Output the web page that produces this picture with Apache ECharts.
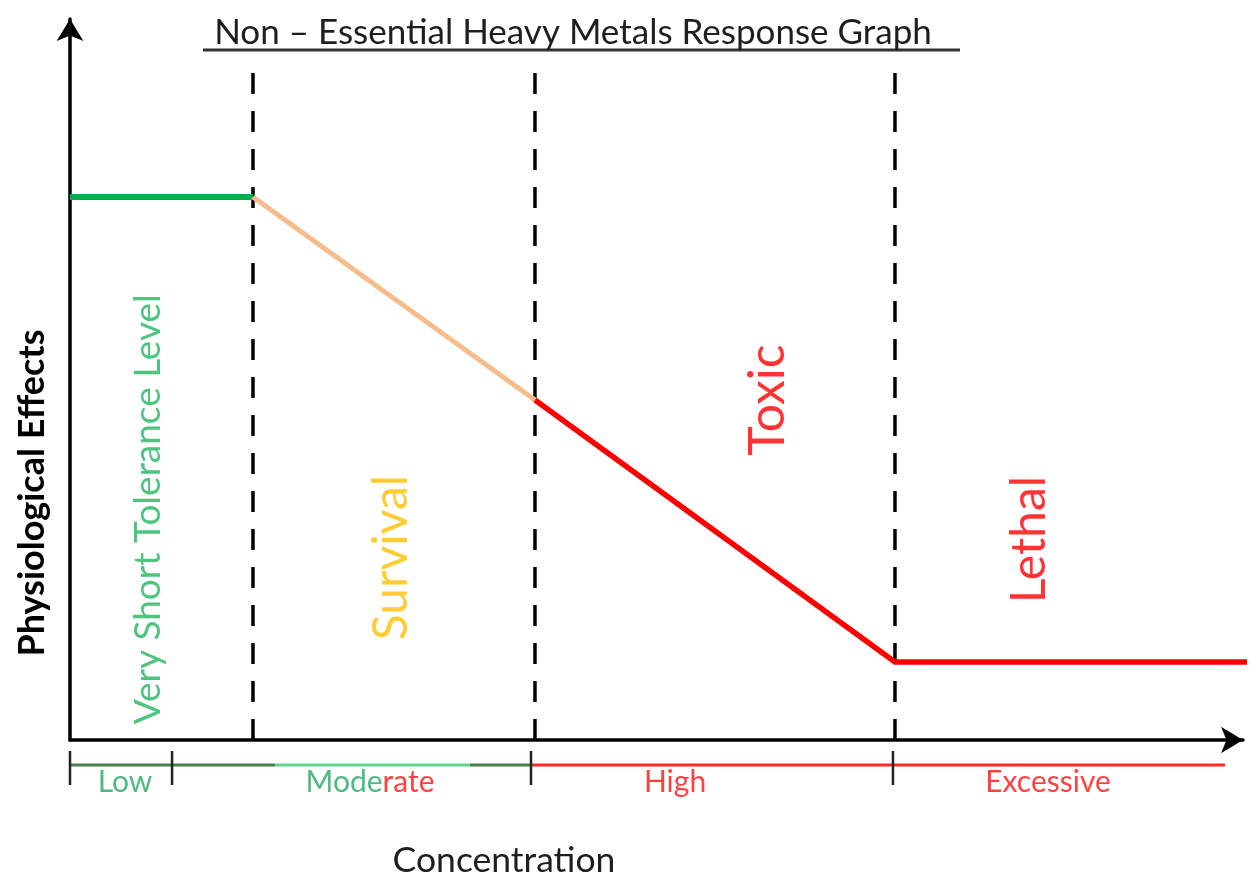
<!DOCTYPE html>
<html>
<head>
<meta charset="utf-8">
<script src="https://cdn.jsdelivr.net/npm/echarts@6/dist/echarts.min.js"></script>
<style>
html,body{margin:0;padding:0;background:#fff;}
#c{width:1255px;height:877px;}
</style>
</head>
<body>
<div id="c"></div>
<script>
// ---- data (concentration units 0..100, effect units 0..100) ----
const boundaries = [15.6, 39.64, 70.33];          // zone boundaries (dashed lines)
const dashTop = 93.2;                              // top of dashed lines
const toleranceLine = [[0, 75.31], [15.6, 75.31]];
const survivalLine = [[15.6, 75.31], [39.64, 47.16]];
const toxicLine = [[39.64, 47.16], [70.33, 10.82], [101, 10.82]];
const zoneLabels = ['Very Short Tolerance Level', 'Survival', 'Toxic', 'Lethal'];
const zoneLabelPos = [[6.65, 32.0], [27.45, 25.3], [59.5, 47.16], [81.84, 27.8]];
const concTicks = [0, 8.7, 39.3, 70.16];           // bracket tick positions
const concLevels = ['Low', 'Moderate', 'High', 'Excessive'];
const concLevelPos = [4.69, 25.58, 51.58, 83.38];
const bracketSegments = [
  { from: 0, to: 17.48, color: '#4a7d4f' },
  { from: 17.48, to: 34.1, color: '#5fd68e' },
  { from: 34.1, to: 39.3, color: '#4a7d4f' },
  { from: 39.3, to: 98.47, color: '#ff2a2a' }
];

const FONT = 'Lato';
const chart = echarts.init(document.getElementById('c'), null, { renderer: 'canvas' });

const series = [];
// dashed boundary lines
boundaries.forEach(b => series.push({
  type: 'line', xAxisIndex: 0, yAxisIndex: 0, data: [[b, 0], [b, dashTop]],
  symbol: 'none', silent: true, z: 1,
  lineStyle: { color: '#000', width: 3.5, type: [21, 17] }
}));
series.push({ type: 'line', data: toleranceLine, symbol: 'none', z: 3,
  lineStyle: { color: '#00b050', width: 6 } });
series.push({ type: 'line', data: survivalLine, symbol: 'none', z: 3,
  lineStyle: { color: '#f6bd8c', width: 5 } });
series.push({ type: 'line', data: toxicLine, symbol: 'none', z: 3, clip: false,
  lineStyle: { color: '#ff0000', width: 5.5, join: 'miter' } });

// zone labels
const zoneStyles = [
  { color: '#22b65e', fontSize: 37 },
  { color: '#ffc000', fontSize: 48 },
  { color: '#ff0000', fontSize: 50 },
  { color: '#ff0000', fontSize: 48 }
];
series.push({
  type: 'scatter', symbolSize: 1, itemStyle: { color: 'rgba(0,0,0,0)' }, silent: true, z: 5,
  data: zoneLabels.map((t, i) => ({
    value: zoneLabelPos[i], name: t,
    label: { show: true, position: 'inside', rotate: 90, formatter: t,
      fontFamily: FONT, color: zoneStyles[i].color, fontSize: zoneStyles[i].fontSize }
  }))
});

// bracket under the axis (grid 1, y in px-offset units 0..55, inverted)
bracketSegments.forEach(s => series.push({
  type: 'line', xAxisIndex: 1, yAxisIndex: 1, data: [[s.from, 20], [s.to, 20]],
  symbol: 'none', silent: true, lineStyle: { color: s.color, width: 3 }
}));
concTicks.forEach(t => series.push({
  type: 'line', xAxisIndex: 1, yAxisIndex: 1, data: [[t, 6], [t, 40]],
  symbol: 'none', silent: true, z: 4, lineStyle: { color: '#222', width: 2.5 }
}));
const levelColors = ['#1faa5e', null, '#ff1010', '#ff1010'];
series.push({
  type: 'scatter', xAxisIndex: 1, yAxisIndex: 1, symbolSize: 1,
  itemStyle: { color: 'rgba(0,0,0,0)' }, silent: true,
  data: concLevels.map((t, i) => ({
    value: [concLevelPos[i], 37],
    label: {
      show: true, position: 'inside', fontFamily: FONT, fontSize: 30,
      color: levelColors[i] || '#1faa5e',
      formatter: t === 'Moderate' ? '{g|Mode}{r|rate}' : t,
      rich: {
        g: { color: '#1faa5e', fontFamily: FONT, fontSize: 30 },
        r: { color: '#ff1010', fontFamily: FONT, fontSize: 30 }
      }
    }
  }))
});

const option = {
  animation: false,
  backgroundColor: '#fff',
  title: [
    { text: 'Non – Essential Heavy Metals Response Graph', left: 568, top: 10, textAlign: 'center',
      textStyle: { fontFamily: FONT, fontWeight: 'normal', fontSize: 35, color: '#1e1e1e' } },
    { text: 'Concentration', left: 499, top: 838, textAlign: 'center',
      textStyle: { fontFamily: FONT, fontWeight: 'normal', fontSize: 35.5, color: '#1e1e1e' } }
  ],
  graphic: [
    { type: 'line', shape: { x1: 203, y1: 50, x2: 960, y2: 50 }, style: { stroke: '#333', lineWidth: 3 } }
  ],
  grid: [
    { left: 70, right: 12, top: 19, height: 721, containLabel: false },
    { left: 70, right: 12, top: 745, height: 55, containLabel: false },
    { left: 70, right: 12, top: 326, height: 334, containLabel: false }
  ],
  xAxis: [
    { type: 'value', gridIndex: 0, min: 0, max: 100,
      axisLine: { show: true, onZero: false, symbol: ['none', 'arrow'], symbolSize: [20, 22],
        lineStyle: { color: '#000', width: 3.5 } },
      axisTick: { show: false }, axisLabel: { show: false }, splitLine: { show: false } },
    { type: 'value', gridIndex: 1, min: 0, max: 100, show: false },
    { type: 'value', gridIndex: 2, min: 0, max: 100, show: false }
  ],
  yAxis: [
    { type: 'value', gridIndex: 0, min: 0, max: 100,
      axisLine: { show: true, onZero: false, symbol: ['none', 'arrow'], symbolSize: [20, 22],
        lineStyle: { color: '#000', width: 3.5 } },
      axisTick: { show: false }, axisLabel: { show: false }, splitLine: { show: false } },
    { type: 'value', gridIndex: 1, min: 0, max: 55, inverse: true, show: false },
    { type: 'value', gridIndex: 2, min: 0, max: 100,
      name: 'Physiological Effects', nameLocation: 'middle', nameGap: 20, nameRotate: 90,
      nameTextStyle: { fontFamily: FONT, fontWeight: 'bold', fontSize: 36, color: '#000' },
      axisLine: { show: false }, axisTick: { show: false }, axisLabel: { show: false }, splitLine: { show: false } }
  ],
  series: series
};
chart.setOption(option);
</script>
</body>
</html>
